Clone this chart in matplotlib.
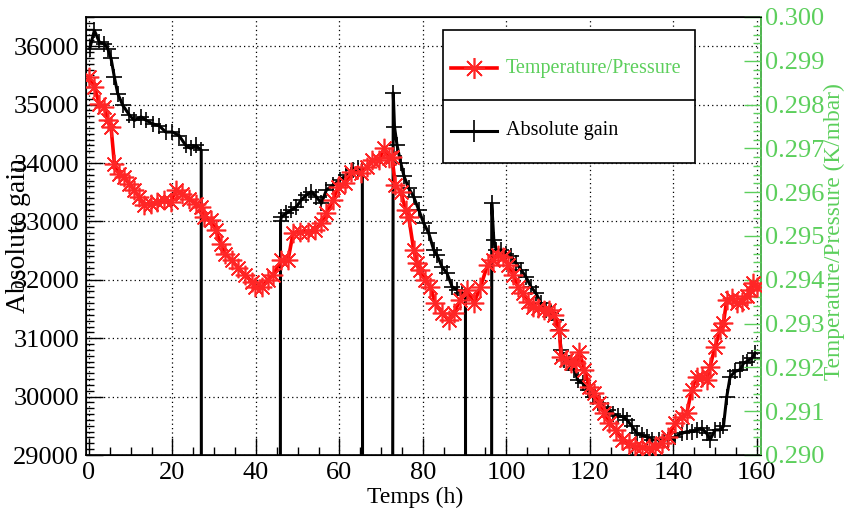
import matplotlib
matplotlib.use("Agg")
import matplotlib.pyplot as plt
from matplotlib.ticker import MultipleLocator, FormatStrFormatter
from matplotlib.patches import Rectangle
from matplotlib.lines import Line2D

plt.rcParams['font.family'] = ['Liberation Serif', 'DejaVu Serif']

# Absolute gain (left axis), zeros where the detector was off
gain_t = [0.2, 1.3, 2.5, 3.7, 4.5, 5.3, 6.1, 6.9, 8.1, 9.7, 10.9, 12.5, 13.7,
          15.3, 16.8, 18.4, 20.0, 21.6, 23.2, 24.4, 25.6, 26.9, 27.1,
          45.6, 45.9, 46.1, 47.3, 48.5, 49.7, 50.9, 52.1, 53.3, 54.5, 55.7,
          56.9, 58.5, 60.1, 61.7, 63.3, 64.5, 65.5, 65.8,
          72.2, 72.9, 73.2, 73.8, 74.7, 75.5, 76.6, 77.8, 79.0, 80.2, 81.4,
          82.6, 83.4, 84.6, 85.8, 87.0, 88.2, 89.4, 90.2, 90.4,
          96.3, 96.5, 97.0, 97.6, 98.8, 100.0, 101.2, 102.4, 103.5, 104.7,
          105.9, 107.1, 108.3, 109.5, 110.7, 111.9, 112.7, 113.1, 113.9,
          115.1, 116.3, 117.1, 118.3, 119.5, 120.7, 121.9, 123.1, 124.3,
          125.5, 126.7, 127.9, 128.9, 130.1, 131.3, 132.5, 133.7, 134.9,
          136.5, 137.7, 138.8, 140.4, 142.0, 143.2, 144.4, 145.6, 146.8,
          148.0, 148.8, 150.0, 151.2, 152.0, 152.8, 153.6, 154.8, 156.0,
          156.8, 157.6, 158.8, 159.6]
gain = [35960, 36270, 36070, 36040, 35960, 35790, 35470, 35190, 34990, 34820,
        34730, 34790, 34730, 34670, 34640, 34530, 34530, 34470, 34300, 34250,
        34300, 34220, 0,
        0, 33000, 33080, 33140, 33195, 33250, 33370, 33450, 33510, 33420,
        33310, 33540, 33620, 33710, 33790, 33880, 33910, 33900, 0,
        0, 35200, 34620, 34310, 34000, 33770, 33570, 33420, 33200, 32970,
        32800, 32510, 32420, 32220, 32110, 31880, 31830, 31770, 31740, 0,
        0, 33310, 32680, 32510, 32510, 32450, 32400, 32280, 32170, 32050,
        31880, 31770, 31600, 31480, 31430, 31310, 31140, 30800, 30630,
        30570, 30460, 30280, 30230, 30110, 30000, 29890, 29830, 29770,
        29710, 29660, 29660, 29600, 29490, 29370, 29340, 29310, 29260,
        29260, 29260, 29260, 29310, 29370, 29400, 29400, 29430, 29460,
        29370, 29260, 29430, 29430, 29490, 30000, 30340, 30430, 30460,
        30570, 30600, 30660, 30740]

# Temperature/Pressure (right axis)
tp_t = [0.0, 1.3, 2.5, 3.7, 4.5, 5.3, 6.1, 7.3, 8.5, 9.7, 10.9, 12.0, 13.2,
        14.9, 16.4, 18.0, 19.6, 20.8, 22.4, 24.0, 25.6, 26.8, 27.6, 29.2,
        30.4, 31.6, 32.6, 34.2, 35.8, 37.4, 39.0, 39.8, 41.4, 42.9, 44.1,
        46.1, 47.7, 48.9, 50.5, 52.5, 54.1, 55.7, 56.9, 58.5, 59.7, 61.3,
        62.9, 65.1, 66.7, 67.9, 69.5, 70.7, 71.9, 72.6, 73.4, 74.7, 75.9,
        76.6, 77.8, 78.6, 79.4, 80.6, 81.8, 83.0, 84.6, 86.2, 87.4, 89.0,
        90.6, 92.2, 93.8, 95.5, 96.8, 98.0, 99.2, 100.4, 101.6, 102.8,
        103.9, 105.1, 106.3, 107.5, 109.1, 110.3, 111.5, 112.7, 113.1,
        114.3, 115.5, 116.7, 117.5, 118.7, 119.9, 121.1, 122.3, 123.5,
        124.7, 126.3, 127.6, 129.3, 130.8, 132.5, 134.1, 135.7, 137.2,
        138.8, 140.4, 142.0, 143.2, 144.4, 145.6, 146.8, 148.0, 148.8,
        150.0, 151.2, 152.0, 152.8, 154.0, 155.2, 156.4, 157.6, 158.4,
        159.2, 160.0]
tp = [0.29863, 0.29840, 0.29802, 0.29795, 0.29764, 0.29749, 0.29665, 0.29642,
      0.29635, 0.29619, 0.29604, 0.29589, 0.29570, 0.29574, 0.29578, 0.29582,
      0.29578, 0.29604, 0.29597, 0.29585, 0.29574, 0.29566, 0.29543, 0.29536,
      0.29513, 0.29482, 0.29460, 0.29445, 0.29426, 0.29411, 0.29396, 0.29384,
      0.29384, 0.29400, 0.29411, 0.29445, 0.29445, 0.29506, 0.29510, 0.29510,
      0.29514, 0.29529, 0.29552, 0.29582, 0.29613, 0.29620, 0.29647, 0.29643,
      0.29658, 0.29674, 0.29674, 0.29700, 0.29677, 0.29681, 0.29616, 0.29601,
      0.29559, 0.29544, 0.29468, 0.29438, 0.29422, 0.29400, 0.29384, 0.29346,
      0.29324, 0.29308, 0.29324, 0.29354, 0.29377, 0.29346, 0.29384, 0.29434,
      0.29445, 0.29457, 0.29453, 0.29434, 0.29411, 0.29384, 0.29369, 0.29350,
      0.29339, 0.29335, 0.29331, 0.29331, 0.29320, 0.29285, 0.29224, 0.29217,
      0.29209, 0.29209, 0.29236, 0.29194, 0.29156, 0.29141, 0.29118, 0.29095,
      0.29072, 0.29057, 0.29035, 0.29027, 0.29019, 0.29019, 0.29015, 0.29019,
      0.29027, 0.29042, 0.29072, 0.29087, 0.29095, 0.29148, 0.29179, 0.29179,
      0.29171, 0.29202, 0.29247, 0.29285, 0.29301, 0.29354, 0.29358, 0.29346,
      0.29350, 0.29362, 0.29377, 0.29392, 0.29384]

green = '#5ccf5c'
W, H = 848, 514
star = (8, 2, 0)
star_edge = (1, 0.15, 0.15)

fig = plt.figure(figsize=(W / 100, H / 100), dpi=100)
ax = fig.add_axes([86 / W, 1 - 455 / H, (761 - 86) / W, (455 - 17) / H])

ax.plot(gain_t, gain, color='black', lw=2.2, marker='+', ms=12, mew=1.2, zorder=3)
ax.set_xlim(-0.7, 161)
ax.set_ylim(29000, 36500)
ax.xaxis.set_major_locator(MultipleLocator(20))
ax.xaxis.set_minor_locator(MultipleLocator(5))
ax.yaxis.set_major_locator(MultipleLocator(1000))
ax.yaxis.set_minor_locator(MultipleLocator(100))
ax.grid(True, which='major', color='black', linestyle=(0, (1, 2.5)), lw=0.9)
ax.set_axisbelow(True)
ax.tick_params(which='major', direction='in', length=12, width=1, labelsize=19, pad=5)
ax.tick_params(which='minor', direction='in', length=6, width=1)
ax.tick_params(axis='y', right=False, which='both')
for s in ax.spines.values():
    s.set_linewidth(1.2)

ax2 = ax.twinx()
ax2.plot(tp_t, tp, color='red', lw=2.6, marker=star, ms=14, mew=1.2,
         mec=star_edge, zorder=4)
ax2.set_ylim(0.290, 0.300)
ax2.yaxis.set_major_locator(MultipleLocator(0.001))
ax2.yaxis.set_minor_locator(MultipleLocator(0.0002))
ax2.yaxis.set_major_formatter(FormatStrFormatter('%.3f'))
ax2.tick_params(which='major', direction='in', length=12, width=1, colors=green,
                labelsize=19, pad=3)
ax2.tick_params(which='minor', direction='in', length=6, width=1, colors=green)
ax2.spines['right'].set_color(green)
ax2.spines['right'].set_linewidth(1.2)

fig.text(415 / W, 1 - 497 / H, 'Temps (h)', fontsize=17, ha='center', va='center')
fig.text(19 / W, 1 - 236 / H, 'Absolute gain', fontsize=20, rotation=90,
         ha='center', va='center')
fig.text(834 / W, 1 - 232 / H, 'Temperature/Pressure (K/mbar)', fontsize=16.8,
         rotation=90, ha='center', va='center', color=green)

# legend box
fig.add_artist(Rectangle((443 / W, 1 - 163 / H), (695 - 443) / W, (163 - 30) / H,
                         transform=fig.transFigure, fc='white', ec='black', lw=1.2, zorder=5))
fig.add_artist(Line2D([443 / W, 695 / W], [1 - 100 / H, 1 - 100 / H],
                      transform=fig.transFigure, color='black', lw=1.2, zorder=6))
fig.add_artist(Line2D([451 / W, 497 / W], [1 - 68 / H, 1 - 68 / H], transform=fig.transFigure,
                      color='red', lw=2.6, zorder=6))
fig.add_artist(Line2D([474 / W], [1 - 68 / H], transform=fig.transFigure, color='red',
                      marker=star, ms=15, mew=1.2, mec=star_edge, zorder=7))
fig.add_artist(Line2D([451 / W, 497 / W], [1 - 131 / H, 1 - 131 / H], transform=fig.transFigure,
                      color='black', lw=2.2, zorder=6))
fig.add_artist(Line2D([474 / W], [1 - 131 / H], transform=fig.transFigure, color='black',
                      marker='+', ms=16, mew=1.2, zorder=7))
fig.text(506 / W, 1 - 68 / H, 'Temperature/Pressure', fontsize=14.5, color=green,
         va='center', zorder=7)
fig.text(506 / W, 1 - 131 / H, 'Absolute gain', fontsize=14.5, color='black',
         va='center', zorder=7)

fig.savefig('out.png', dpi=100)
